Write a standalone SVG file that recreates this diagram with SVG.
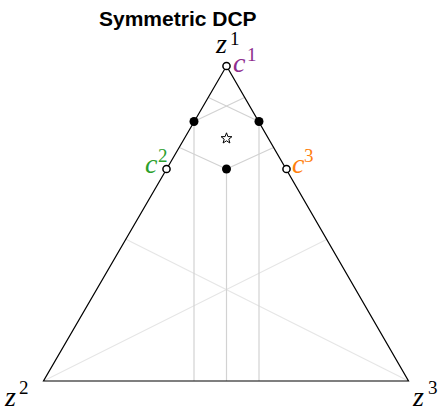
<svg xmlns="http://www.w3.org/2000/svg" width="439" height="411" viewBox="0 0 439 411">
<style>
.title{font-family:"Liberation Sans",Arial,sans-serif;font-weight:bold;font-size:21px;fill:#000}
.m{font-family:"Liberation Serif","Times New Roman",serif;font-style:italic;font-size:28px}
.sup{font-family:"Liberation Serif","Times New Roman",serif;font-size:19px}
.g1{stroke:#d2d2d2;stroke-width:1.2;fill:none}
.g2{stroke:#e6e6e6;stroke-width:1.2;fill:none}
.edge{stroke:#000;stroke-width:1.2;fill:none}
.open{fill:#fff;stroke:#000;stroke-width:1.5}
.dot{fill:#000}
</style>
<rect width="439" height="411" fill="#fff"/>
<text class="title" x="99" y="26">Symmetric DCP</text>
<g id="connectors">
<line class="g2" x1="43.5" y1="381" x2="327" y2="239.3"/>
<line class="g2" x1="408.5" y1="381" x2="126" y2="239.3"/>
<line class="g1" x1="194" y1="121.5" x2="194" y2="381"/>
<line class="g1" x1="226.5" y1="169" x2="226.5" y2="381"/>
<line class="g1" x1="259" y1="121.5" x2="259" y2="381"/>
<line class="g1" x1="208.5" y1="97.5" x2="259" y2="121.5"/>
<line class="g1" x1="244.5" y1="97.5" x2="194" y2="121.5"/>
<line class="g1" x1="179.5" y1="147.5" x2="226.5" y2="169"/>
<line class="g1" x1="273.5" y1="147.5" x2="226.5" y2="169"/>
<polygon class="edge" points="226.5,66 43.5,381 408.5,381"/>
</g>
<g id="z1"><text class="m" x="216" y="53">z</text><text class="sup" x="230" y="45">1</text></g>
<g id="z2"><text class="m" x="5" y="406">z</text><text class="sup" x="19" y="394">2</text></g>
<g id="z3"><text class="m" x="413" y="406">z</text><text class="sup" x="428" y="394">3</text></g>
<g id="c1" fill="#8e2c8e"><circle class="open" cx="226.5" cy="66" r="3.6"/><text class="m" x="233" y="72">c</text><text class="sup" x="247" y="61">1</text></g>
<g id="c2" fill="#2ca02c"><circle class="open" cx="166.5" cy="169" r="3.6"/><text class="m" x="145" y="173">c</text><text class="sup" x="158" y="162">2</text></g>
<g id="c3" fill="#ff7f0e"><circle class="open" cx="286.5" cy="169" r="3.6"/><text class="m" x="292" y="173">c</text><text class="sup" x="304" y="162">3</text></g>
<g id="p1"><circle class="dot" cx="194" cy="121.5" r="4.5"/></g>
<g id="p2"><circle class="dot" cx="259" cy="121.5" r="4.5"/></g>
<g id="p3"><circle class="dot" cx="226.5" cy="169" r="4.5"/></g>
<g id="star"><polygon fill="#fff" stroke="#000" stroke-width="1" points="226.5,132.8 227.9,136.6 231.9,136.7 228.8,139.2 229.9,143 226.5,140.8 223.1,143 224.2,139.2 221.1,136.7 225.1,136.6"/></g>
</svg>
